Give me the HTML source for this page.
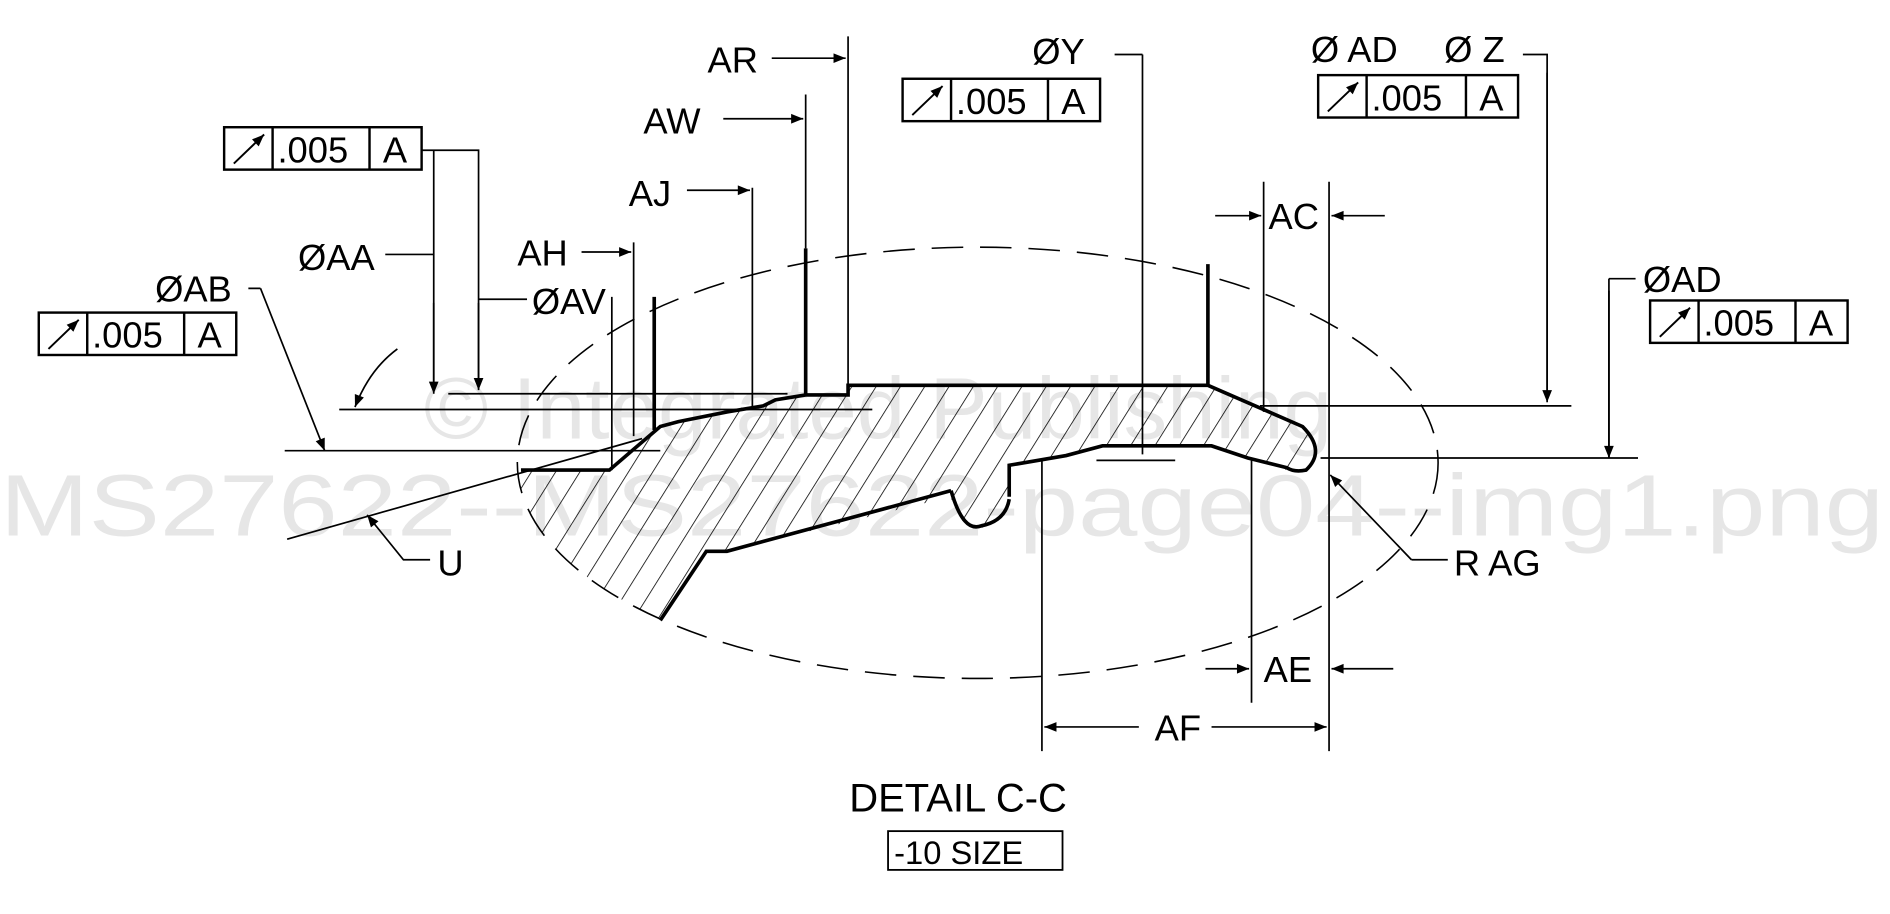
<!DOCTYPE html>
<html><head><meta charset="utf-8"><style>html,body{margin:0;padding:0;background:#fff}svg{display:block}</style></head>
<body>
<svg width="1890" height="914" viewBox="0 0 1560 754.4" xmlns="http://www.w3.org/2000/svg" font-family="Liberation Sans, Arial, sans-serif">
<defs>
<pattern id="h" patternUnits="userSpaceOnUse" width="17" height="17" patternTransform="rotate(32)">
<line x1="0" y1="0" x2="0" y2="17" stroke="#000" stroke-width="1.3"/>
</pattern>
<marker id="a" viewBox="0 0 10 10" refX="10" refY="5" markerWidth="16" markerHeight="10" markerUnits="userSpaceOnUse" orient="auto"><path d="M0,1 L10,5 L0,9 z" fill="#000"/></marker>
<clipPath id="ec"><ellipse cx="807" cy="382" rx="380" ry="178"/></clipPath>
</defs>
<rect width="1560" height="755" fill="#fff"/>
<g fill="#e6e6e6" font-size="72">
<text x="350" y="362">© Integrated Publishing</text>
<text x="0" y="442" textLength="1555" lengthAdjust="spacingAndGlyphs">MS27622--MS27622-page04--img1.png</text>
</g>
<g clip-path="url(#ec)">
<path d="M400,388 L503,388 L545,352 L640,330 L665,326 L700,326 L700,318 L997,318 L1075,352 Q1095,372 1078,388 L1062,388 L1030,378 L1000,368 L910,368 L880,376 L845,382 L833,384 L833,405 A24,28 0 0 1 785,410 L600,455 L583,455 L545,512 L400,560 Z" fill="url(#h)"/>
</g>
<g fill="none" stroke="#000" stroke-width="3">
<path d="M430,388 L503,388 L545,352 L560,348 L600,340 L630,335 L640,330 L665,326 L700,326 L700,318 L997,318 L1075,352 Q1095,372 1078,388 Q1068,390 1062,386 L1030,378 L1000,368 L910,368 L880,376 L845,382 L833,384 L833,410"/>
<path d="M785,405 Q795,440 810,434 Q830,430 833,412"/>
<path d="M785,405 L600,455 L583,455 L545,512"/>
<path d="M540,245 V355 M665,205 V326 M997,218 V318"/>
</g>
<ellipse cx="807" cy="382" rx="380" ry="178" fill="none" stroke="#000" stroke-width="1.3" stroke-dasharray="26,14"/>
<g fill="none" stroke="#000" stroke-width="1.4">
<path d="M700,30 V318 M665,78 V205 M621,155 V338 M523,200 V360 M505,245 V388"/>
<path d="M943,45 V375 M920,45 H943 M1043,150 V340 M1097,150 V620 M1033,380 V580 M860,380 V620"/>
<path d="M1257,45 H1277 V330 M1328,230 H1350 M1328,230 V378"/>
<path d="M280,338 H720 M370,325 H650 M235,372 H545 M1040,335 H1297 M1090,378 H1352 M905,380 H970"/>
<path d="M237,445 L530,362"/>
<path d="M348,124 H395 V318 M358,124 V316 M318,210 H358 M395,247 H435 M205,238 H215"/>
<path d="M1165,462 H1195"/>
</g>
<g fill="none" stroke="#000" stroke-width="1.4" marker-end="url(#a)">
<path d="M637,48 H698"/>
<path d="M597,98 H663"/>
<path d="M567,157 H619"/>
<path d="M480,208 H521"/>
<path d="M358,250 V325"/>
<path d="M395,250 V322"/>
<path d="M215,238 L268,372"/>
<path d="M328,288 Q305,305 293,336"/>
<path d="M1277,60 V332"/>
<path d="M1328,240 V378"/>
<path d="M1003,178 H1041"/>
<path d="M1143,178 H1099"/>
<path d="M995,552 H1031"/>
<path d="M1150,552 H1099"/>
<path d="M940,600 H862"/>
<path d="M1000,600 H1095"/>
<path d="M1165,462 L1098,392"/>
<path d="M355,462 H333 L303,425"/>
</g>
<g fill="none" stroke="#000" stroke-width="2">
<rect x="185" y="105" width="163" height="35"/><path d="M225,105 V140 M305,105 V140"/>
<rect x="32" y="258" width="163" height="35"/><path d="M72,258 V293 M152,258 V293"/>
<rect x="745" y="65" width="163" height="35"/><path d="M785,65 V100 M865,65 V100"/>
<rect x="1088" y="62" width="165" height="35"/><path d="M1128,62 V97 M1210,62 V97"/>
<rect x="1362" y="248" width="163" height="35"/><path d="M1402,248 V283 M1482,248 V283"/>
<rect x="733" y="686" width="144" height="32" stroke-width="1.5"/>
</g>
<g stroke="#000" stroke-width="1.6" marker-end="url(#a)">
<path d="M193,135 L218,111"/><path d="M40,288 L65,264"/><path d="M753,95 L778,71"/><path d="M1096,92 L1121,68"/><path d="M1370,278 L1395,254"/>
</g>
<g font-size="30" fill="#000">
<text x="229" y="134">.005</text><text x="316" y="134">A</text>
<text x="76" y="287">.005</text><text x="163" y="287">A</text>
<text x="789" y="94">.005</text><text x="876" y="94">A</text>
<text x="1132" y="91">.005</text><text x="1221" y="91">A</text>
<text x="1406" y="277">.005</text><text x="1493" y="277">A</text>
<text x="584" y="60">AR</text>
<text x="531" y="110">AW</text>
<text x="519" y="170">AJ</text>
<text x="427" y="219">AH</text>
<text x="246" y="223">ØAA</text>
<text x="439" y="259">ØAV</text>
<text x="128" y="249">ØAB</text>
<text x="852" y="53">ØY</text>
<text x="1082" y="51">Ø AD</text>
<text x="1192" y="51">Ø Z</text>
<text x="1356" y="241">ØAD</text>
<text x="1047" y="189">AC</text>
<text x="1043" y="563">AE</text>
<text x="953" y="611">AF</text>
<text x="1200" y="475">R AG</text>
<text x="361" y="475">U</text>
<text x="701" y="670" font-size="33">DETAIL C-C</text>
<text x="738" y="713" font-size="27">-10 SIZE</text>
</g>
</svg>
</body></html>
